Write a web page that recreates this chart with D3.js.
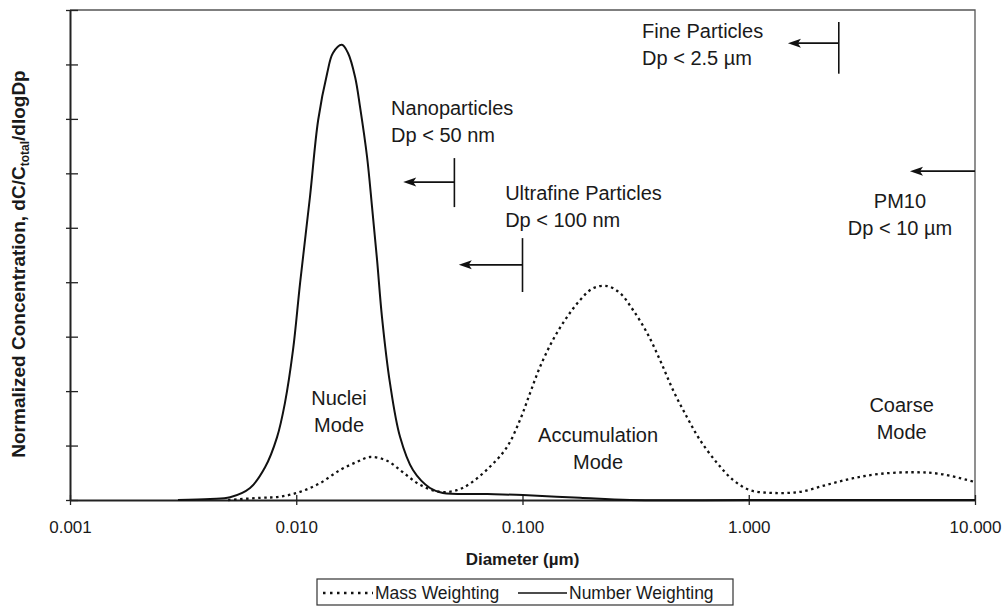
<!DOCTYPE html>
<html>
<head>
<meta charset="utf-8">
<script src="https://cdn.jsdelivr.net/npm/d3@7"></script>
<style>
  body { margin: 0; background: #fff; }
  text { font-family: "Liberation Sans", Arial, sans-serif; fill: #1a1a1a; }
</style>
</head>
<body>
<div id="chart"></div>
<script>
// number weighting (solid) - diameter in um, normalized concentration
var numberD = [0.003, 0.00416, 0.0051, 0.00625, 0.00728, 0.00822, 0.00891, 0.00968, 0.0104, 0.0115, 0.0125, 0.0137, 0.01453, 0.0159, 0.01693, 0.0182, 0.01914, 0.02056, 0.02163, 0.02276, 0.02393, 0.02595, 0.02875, 0.0328, 0.039, 0.0445, 0.07, 0.1005, 0.1795, 0.2988, 1, 10];
var numberC = [0, 0.02, 0.05, 0.22, 0.6, 1.15, 1.78, 2.76, 3.99, 5.57, 6.98, 7.84, 8.21, 8.36, 8.21, 7.77, 7.22, 6.30, 5.38, 4.41, 3.36, 2.15, 1.16, 0.55, 0.22, 0.13, 0.11, 0.09, 0.04, 0, 0, 0];

// mass weighting (dotted)
var massD = [0.005, 0.00692, 0.00847, 0.0104, 0.01274, 0.0156, 0.01855, 0.0212, 0.0252, 0.0296, 0.0352, 0.0432, 0.0513, 0.0586, 0.0718, 0.0853, 0.0975, 0.1079, 0.1194, 0.1363, 0.1573, 0.1795, 0.205, 0.2363, 0.2698, 0.3079, 0.3551, 0.4054, 0.4626, 0.5335, 0.6093, 0.7245, 0.8518, 1.013, 1.279, 1.685, 2.218, 2.89, 3.802, 5.32, 7.0, 10];
var massC = [0, 0.04, 0.06, 0.15, 0.31, 0.55, 0.70, 0.79, 0.72, 0.51, 0.28, 0.15, 0.18, 0.30, 0.61, 0.97, 1.47, 1.96, 2.44, 2.94, 3.36, 3.67, 3.89, 3.93, 3.80, 3.49, 3.07, 2.57, 2.02, 1.52, 1.10, 0.68, 0.37, 0.18, 0.13, 0.15, 0.28, 0.40, 0.48, 0.51, 0.48, 0.33];

var xTicks = [0.001, 0.01, 0.1, 1, 10];
var yTicks = [0, 1, 2, 3, 4, 5, 6, 7, 8, 9];

// size cut-offs: bar at cut diameter, arrow pointing to smaller sizes
var cutD    = [0.05, 0.1, 2.5, 10];
var cutTip  = [0.0297, 0.0523, 1.49, 5.16];
var cutY    = [5.84, 4.32, 8.39, 6.04];
var cutBarLo = [5.38, 3.82, 7.83, null];
var cutBarHi = [6.28, 4.81, 8.78, null];

// text labels
var labelLines = [["Nanoparticles", "Dp < 50 nm"], ["Ultrafine Particles", "Dp < 100 nm"], ["Fine Particles", "Dp < 2.5 \u00b5m"], ["PM10", "Dp < 10 \u00b5m"], ["Nuclei", "Mode"], ["Accumulation", "Mode"], ["Coarse", "Mode"]];
var labelD = [0.02625, 0.0838, 0.3375, 4.66, 0.01545, 0.2158, 4.74];
var labelC = [7.07, 5.51, 8.49, 5.36, 1.745, 1.065, 1.616];
var labelAnchor = ["start", "start", "start", "middle", "middle", "middle", "middle"];

var margin = {top: 10, right: 30, bottom: 108, left: 70},
  width = 1005 - margin.left - margin.right,
  height = 608 - margin.top - margin.bottom;

var svgRoot = d3.select("#chart").append("svg")
  .attr("width", 1005)
  .attr("height", 608);
var svg = svgRoot.append("g")
  .attr("transform", "translate(" + margin.left + "," + margin.top + ")");

var x = d3.scaleLog().domain([0.001, 10]).range([0, width]);
var y = d3.scaleLinear().domain([0, 9]).range([height, 0]);

// frame (top and right)
svg.append("path")
  .attr("d", "M0,0H" + width + "V" + height)
  .style("fill", "none")
  .style("stroke", "#555")
  .style("stroke-width", 1.3);

// axes
var xAxis = svg.append("g")
  .attr("transform", "translate(0," + height + ")")
  .call(d3.axisBottom(x).tickValues(xTicks).tickFormat(d3.format(".3f")).tickSizeOuter(0));
xAxis.select(".domain").style("stroke", "#222").style("stroke-width", 2);
xAxis.selectAll(".tick line").attr("y1", -5).attr("y2", 5).style("stroke", "#222").style("stroke-width", 1.3);
xAxis.selectAll(".tick text").attr("y", 33).attr("dy", 0)
  .style("font-size", "17px").style("fill", "#1a1a1a")
  .style("font-family", "'Liberation Sans', Arial, sans-serif");

var yAxis = svg.append("g")
  .call(d3.axisLeft(y).tickValues(yTicks).tickFormat("").tickSizeOuter(0));
yAxis.select(".domain").style("stroke", "#222").style("stroke-width", 2);
yAxis.selectAll(".tick line").attr("x1", -4).attr("x2", 8).style("stroke", "#222").style("stroke-width", 1.3);

// curves
var line = d3.line()
  .x(function(d) { return x(d[0]); })
  .y(function(d) { return y(d[1]); })
  .curve(d3.curveCatmullRom.alpha(0.5));

svg.append("path")
  .datum(massD.map(function(d, i) { return [d, massC[i]]; }))
  .attr("d", line)
  .style("fill", "none")
  .style("stroke", "#111")
  .style("stroke-width", 2.3)
  .style("stroke-dasharray", "2.5,3.5");

svg.append("path")
  .datum(numberD.map(function(d, i) { return [d, numberC[i]]; }))
  .attr("d", line)
  .style("fill", "none")
  .style("stroke", "#111")
  .style("stroke-width", 2);

// cut-off bars and arrows
cutD.forEach(function(d, i) {
  var ty = y(cutY[i]), tx = x(cutTip[i]);
  if (cutBarLo[i] !== null) {
    svg.append("line")
      .attr("x1", x(d)).attr("x2", x(d))
      .attr("y1", y(cutBarLo[i])).attr("y2", y(cutBarHi[i]))
      .style("stroke", "#111").style("stroke-width", 1.6);
  }
  svg.append("line")
    .attr("x1", x(d)).attr("x2", tx + 8)
    .attr("y1", ty).attr("y2", ty)
    .style("stroke", "#111").style("stroke-width", 1.8);
  svg.append("path")
    .attr("d", d3.line()([[tx, ty], [tx + 13, ty - 4.5], [tx + 10, ty], [tx + 13, ty + 4.5]]) + "Z")
    .style("fill", "#111");
});

// labels
labelLines.forEach(function(lines, i) {
  var t = svg.append("text")
    .attr("x", x(labelD[i]))
    .attr("y", y(labelC[i]))
    .style("font-size", "20px")
    .style("text-anchor", labelAnchor[i]);
  lines.forEach(function(s, j) {
    t.append("tspan")
      .attr("x", x(labelD[i]))
      .attr("dy", j === 0 ? 0 : "1.35em")
      .text(s);
  });
});

// axis titles
svg.append("text")
  .attr("x", x(0.1))
  .attr("y", height + 65)
  .style("text-anchor", "middle")
  .style("font-size", "17px")
  .style("font-weight", "bold")
  .text("Diameter (\u00b5m)");

var yTitle = svgRoot.append("text")
  .attr("transform", "translate(25,264) rotate(-90)")
  .style("text-anchor", "middle")
  .style("font-size", "19px")
  .style("font-weight", "bold");
yTitle.append("tspan").text("Normalized Concentration, dC/C");
yTitle.append("tspan").attr("dy", 4).style("font-size", "12px").text("total");
yTitle.append("tspan").attr("dy", -4).text("/dlogDp");

// legend
var legend = svgRoot.append("g").attr("transform", "translate(317,579)");
legend.append("rect")
  .attr("width", 416).attr("height", 26)
  .style("fill", "#fff").style("stroke", "#333").style("stroke-width", 1.2);
legend.append("line")
  .attr("x1", 6).attr("x2", 56).attr("y1", 14).attr("y2", 14)
  .style("stroke", "#111").style("stroke-width", 2.3).style("stroke-dasharray", "2.5,4.5");
legend.append("text").attr("x", 58).attr("y", 19.5).style("font-size", "17.5px").text("Mass Weighting");
legend.append("line")
  .attr("x1", 201).attr("x2", 250).attr("y1", 14).attr("y2", 14)
  .style("stroke", "#111").style("stroke-width", 1.6);
legend.append("text").attr("x", 252).attr("y", 19.5).style("font-size", "17.5px").text("Number Weighting");
</script>
</body>
</html>
